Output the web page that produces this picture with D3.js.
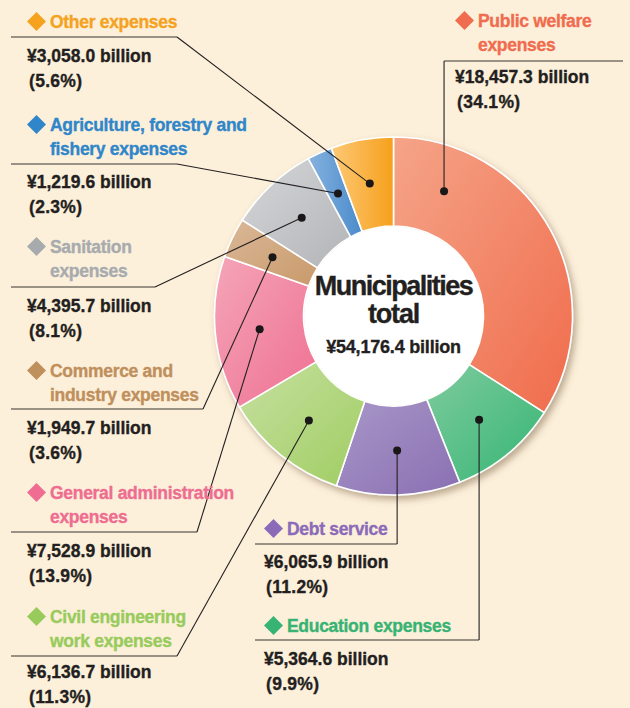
<!DOCTYPE html>
<html>
<head>
<meta charset="utf-8">
<script src="https://cdn.jsdelivr.net/npm/d3@7"></script>
<style>
	html, body { margin: 0; padding: 0; background: #fdf0db; }
	svg { display: block; font-family: "Liberation Sans", Arial, sans-serif; font-weight: bold; }
	text { paint-order: stroke; stroke-width: 0.35px; }
</style>
</head>
<body>
<svg id="chart" width="630" height="708"></svg>
<script>
(function() {
	'use strict';

	// slices, clockwise from 12 o'clock
	const categories = [
		'Public welfare expenses',
		'Education expenses',
		'Debt service',
		'Civil engineering work expenses',
		'General administration expenses',
		'Commerce and industry expenses',
		'Sanitation expenses',
		'Agriculture, forestry and fishery expenses',
		'Other expenses'
	];
	const values = [18457.3, 5364.6, 6065.9, 6136.7, 7528.9, 1949.7, 4395.7, 1219.6, 3058.0]; // ¥ billion
	const totalLabel = ['Municipalities', 'total'];
	const colorsLight = ['#f5a488', '#7ecb9d', '#a897c8', '#c6e0a0', '#f5a5b8', '#dab898', '#d5d6d8', '#86b2df', '#fdc977'];
	const colorsDark  = ['#f06c4c', '#36b574', '#8a6fb2', '#a0cd62', '#ee7092', '#c99a6a', '#b2b4b7', '#4a8bcb', '#f6a01c'];
	const titleColors = ['#f06c4f', '#37b373', '#8b6bb8', '#98cb5c', '#ee6d90', '#bf8f5c', '#a8abae', '#2f86c9', '#f5a21f'];

	const svg = d3.select('#chart');
	const cx = 393.5, cy = 316;
	const outerR = 179, innerR = 90, dotR = 134.5;
	const ink = '#231f20';

	const total = d3.sum(values);
	const fmtVal = d3.format(',.1f');
	const fmtPct = d3.format('.1f');

	const defs = svg.append('defs');
	const shadow = defs.append('filter').attr('id', 'shadow')
		.attr('x', '-10%').attr('y', '-10%').attr('width', '125%').attr('height', '125%');
	shadow.append('feDropShadow')
		.attr('dx', 3).attr('dy', 4).attr('stdDeviation', 3.5)
		.attr('flood-color', '#6b5334').attr('flood-opacity', 0.45);

	categories.forEach(function(c, i) {
		const last = i === categories.length - 1 || i === categories.length - 2;
		const g = defs.append('linearGradient').attr('id', 'grad' + i)
			.attr('x1', 0).attr('y1', 0).attr('x2', 1).attr('y2', last ? 0 : 1);
		g.append('stop').attr('offset', '0%').attr('stop-color', colorsLight[i]);
		g.append('stop').attr('offset', '100%').attr('stop-color', colorsDark[i]);
	});

	const pie = d3.pie().sort(null).value(function(d) { return d; });
	const arcs = pie(values);
	const arc = d3.arc().innerRadius(innerR).outerRadius(outerR);

	const donut = svg.append('g')
		.attr('transform', 'translate(' + cx + ',' + cy + ')');

	donut.append('g').attr('filter', 'url(#shadow)')
		.selectAll('path')
		.data(arcs)
		.enter().append('path')
		.attr('d', arc)
		.attr('fill', function(d, i) { return 'url(#grad' + i + ')'; })
		.attr('stroke', '#fff')
		.attr('stroke-width', 1.6)
		.attr('stroke-linejoin', 'round');

	donut.append('circle').attr('r', innerR - 0.5).attr('fill', '#fff');

	// centre text
	donut.append('text').attr('text-anchor', 'middle').attr('y', -21)
		.attr('font-size', 27).attr('letter-spacing', -1.5).attr('fill', ink).attr('stroke', ink)
		.text(totalLabel[0]);
	donut.append('text').attr('text-anchor', 'middle').attr('y', 7)
		.attr('font-size', 27).attr('letter-spacing', -1.2).attr('fill', ink).attr('stroke', ink)
		.text(totalLabel[1]);
	donut.append('text').attr('text-anchor', 'middle').attr('y', 37)
		.attr('font-size', 18).attr('letter-spacing', -0.2).attr('fill', ink).attr('stroke', ink)
		.text('¥' + fmtVal(total) + ' billion');

	// dot position inside each slice (welfare dot sits near its start)
	function dotPos(d, i) {
		const f = i === 0 ? 0.18 : 0.5;
		const a = d.startAngle + (d.endAngle - d.startAngle) * f;
		return [cx + dotR * Math.sin(a), cy - dotR * Math.cos(a)];
	}

	// label layout: title lines, baseline, underline span, which end connects
	const layout = [
		{ lines: ['Public welfare', 'expenses'], tx: 478, ty: 27, ly: 61, x1: 'dot', x2: 623, vx: 455, vy: 83 },
		{ lines: ['Education expenses'], tx: 287, ty: 632, ly: 640, x1: 255, x2: 'dot', vx: 264, vy: 665 },
		{ lines: ['Debt service'], tx: 287, ty: 535, ly: 544, x1: 255, x2: 'dot', vx: 264, vy: 568 },
		{ lines: ['Civil engineering', 'work expenses'], tx: 50, ty: 623, ly: 656, x1: 11, x2: 177, vx: 27, vy: 678 },
		{ lines: ['General administration', 'expenses'], tx: 50, ty: 499, ly: 532, x1: 11, x2: 197, vx: 27, vy: 557 },
		{ lines: ['Commerce and', 'industry expenses'], tx: 50, ty: 377, ly: 409, x1: 11, x2: 203, vx: 27, vy: 434 },
		{ lines: ['Sanitation', 'expenses'], tx: 50, ty: 253, ly: 287, x1: 11, x2: 155, vx: 27, vy: 312 },
		{ lines: ['Agriculture, forestry and', 'fishery expenses'], tx: 50, ty: 131, ly: 164, x1: 11, x2: 177, vx: 27, vy: 188 },
		{ lines: ['Other expenses'], tx: 50, ty: 28, ly: 37, x1: 11, x2: 177, vx: 27, vy: 62 }
	];

	const labels = svg.append('g');

	arcs.forEach(function(d, i) {
		const L = layout[i];
		const p = dotPos(d, i);
		const x1 = L.x1 === 'dot' ? p[0] : L.x1;
		const x2 = L.x2 === 'dot' ? p[0] : L.x2;
		const g = labels.append('g');

		// underline and leader
		const ax = L.x1 === 'dot' ? x1 : x2;
		g.append('path')
			.attr('d', d3.line()([[x1, L.ly], [x2, L.ly]]))
			.attr('stroke', '#3a3433').attr('stroke-width', 1.1).attr('fill', 'none');
		g.append('path')
			.attr('d', d3.line()([[ax, L.ly], p]))
			.attr('stroke', '#231f20').attr('stroke-width', 1.1).attr('fill', 'none');
		g.append('circle').attr('cx', p[0]).attr('cy', p[1]).attr('r', 4).attr('fill', '#1a1718');

		// diamond + title
		const dx = L.tx - 13.5, dy = L.ty - 6.5;
		g.append('path')
			.attr('d', d3.line()([[dx, dy - 9.5], [dx + 9.5, dy], [dx, dy + 9.5], [dx - 9.5, dy]]) + 'Z')
			.attr('fill', titleColors[i]);
		const t = g.append('text').attr('font-size', 17.5).attr('letter-spacing', -0.3)
			.attr('fill', titleColors[i]).attr('stroke', titleColors[i]);
		L.lines.forEach(function(s, k) {
			t.append('tspan').attr('x', L.tx).attr('y', L.ty + k * 23.5).text(s);
		});

		// value + share
		g.append('text').attr('x', L.vx).attr('y', L.vy)
			.attr('font-size', 17.5).attr('fill', ink).attr('stroke', ink)
			.text('¥' + fmtVal(values[i]) + ' billion');
		g.append('text').attr('x', L.vx + 2).attr('y', L.vy + 25)
			.attr('font-size', 17.5).attr('letter-spacing', 0.3).attr('fill', ink).attr('stroke', ink)
			.text('(' + fmtPct(values[i] / total * 100) + '%)');
	});
})();
</script>
</body>
</html>
